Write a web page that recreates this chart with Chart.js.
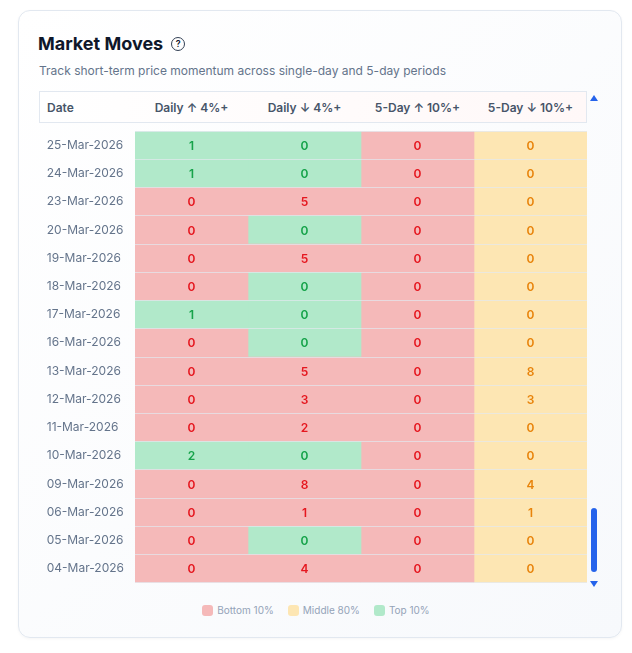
<!DOCTYPE html>
<html><head><meta charset="utf-8">
<script src="https://cdn.jsdelivr.net/npm/chart.js@4"></script>
<style>
body{margin:0;width:632px;height:653px;background:#fff;font-family:Inter,"Noto Sans",sans-serif;position:relative;overflow:hidden}
.card{position:absolute;left:18px;top:10px;width:602px;height:626px;border:1px solid #e2e8f0;border-radius:12px;background:linear-gradient(135deg,#fff,#f7f9fc);box-shadow:0 1px 3px rgba(0,0,0,.04)}
.title{position:absolute;left:38px;top:33px;font-size:18px;font-weight:700;color:#0f172a}
.q{display:inline-block;width:12px;height:12px;border:1.3px solid #334155;border-radius:50%;font-size:9px;line-height:12px;text-align:center;font-weight:600;margin-left:8px;vertical-align:3px}
.sub{position:absolute;left:39px;top:63px;font-size:12px;color:#64748b}
.head{position:absolute;left:39px;top:91px;width:548px;height:32px;border:1px solid #e2e8f0;background:linear-gradient(90deg,#fff,#fff8f8);box-sizing:border-box;font-size:12px;font-weight:600;color:#475569}
.head div{position:absolute;top:8px;text-align:center}
#wrap{position:absolute;left:40px;top:124px;width:547px;height:466px}
.legend{position:absolute;top:604px;left:0;width:632px;text-align:center;font-size:10px;color:#94a3b8}
.legend span{display:inline-block;margin:0 7px}
.legend i{display:inline-block;width:11px;height:11px;border-radius:3px;vertical-align:-2px;margin-right:4px}
.thumb{position:absolute;left:591px;top:508px;width:6px;height:64px;border-radius:3px;background:#2563eb}
.arr{position:absolute;left:590px;width:0;height:0;border-left:4px solid transparent;border-right:4px solid transparent}
</style></head><body>
<div class="card"></div>
<div class="title">Market Moves<span class="q">?</span></div>
<div class="sub">Track short-term price momentum across single-day and 5-day periods</div>
<div class="head" id="head"></div>
<div id="wrap"><canvas id="c"></canvas></div>
<div class="arr" style="top:95px;border-bottom:6px solid #2563eb"></div>
<div class="arr" style="top:581px;border-top:6px solid #2563eb"></div>
<div class="thumb"></div>
<div class="legend"><span><i style="background:#f5b9b9"></i>Bottom 10%</span><span><i style="background:#fde6b3"></i>Middle 80%</span><span><i style="background:#b1e9ca"></i>Top 10%</span></div>
<script>
const dates=["25-Mar-2026","24-Mar-2026","23-Mar-2026","20-Mar-2026","19-Mar-2026","18-Mar-2026","17-Mar-2026","16-Mar-2026","13-Mar-2026","12-Mar-2026","11-Mar-2026","10-Mar-2026","09-Mar-2026","06-Mar-2026","05-Mar-2026","04-Mar-2026"];
const columns=["Daily ↑ 4%+","Daily ↓ 4%+","5-Day ↑ 10%+","5-Day ↓ 10%+"];
const dailyUp=[1,1,0,0,0,0,1,0,0,0,0,2,0,0,0,0];
const dailyDown=[0,0,5,0,5,0,0,0,5,3,2,0,8,1,0,4];
const fiveUp=[0,0,0,0,0,0,0,0,0,0,0,0,0,0,0,0];
const fiveDown=[0,0,0,0,0,0,0,0,8,3,0,0,4,1,0,0];
const dailyUpBand=["t","t","b","b","b","b","t","b","b","b","b","t","b","b","b","b"];
const dailyDownBand=["t","t","b","t","b","t","t","t","b","b","b","t","b","b","t","b"];
const fiveUpBand=Array(16).fill("b");
const fiveDownBand=Array(16).fill("m");

const fill={b:"#f5b9b9",m:"#fde6b3",t:"#b1e9ca"};
const ink={b:"#e5171f",m:"#e8840c",t:"#16a34a"};
const values=[dailyUp,dailyDown,fiveUp,fiveDown];
const bands=[dailyUpBand,dailyDownBand,fiveUpBand,fiveDownBand];

const head=document.getElementById('head');
const hx=[[0,95,"Date"]];
const colW=547-95, cw=colW/4;
columns.forEach((c,i)=>hx.push([95+i*cw,cw,c]));
hx.forEach(([l,w,t],i)=>{const d=document.createElement('div');d.textContent=t;d.style.left=(i?l:7)+'px';d.style.width=(i?w:80)+'px';if(!i)d.style.textAlign='left';head.appendChild(d);});

const labelsPlugin={id:'cellText',afterDatasetsDraw(chart){const ctx=chart.ctx;ctx.save();ctx.font='600 12px Inter, sans-serif';ctx.textAlign='center';ctx.textBaseline='middle';
chart.data.datasets.forEach((ds,di)=>{chart.getDatasetMeta(di).data.forEach((bar,i)=>{const p=bar.getProps(['x','base','y']);ctx.fillStyle=ink[bands[di][i]];ctx.fillText(String(values[di][i]),(p.x+p.base)/2,p.y+1);});});ctx.restore();}};

new Chart(document.getElementById('c'),{type:'bar',
data:{labels:dates,datasets:columns.map((c,di)=>({label:c,data:dates.map(()=>1),backgroundColor:bands[di].map(b=>fill[b]),borderWidth:0,barPercentage:1,categoryPercentage:1}))},
options:{indexAxis:'y',responsive:true,maintainAspectRatio:false,animation:false,layout:{padding:0},
plugins:{legend:{display:false},tooltip:{enabled:false}},
scales:{x:{display:false,stacked:true,min:0,max:4},
y:{stacked:true,afterFit(s){s.width=95;},border:{display:false},grid:{offset:true,color:'rgba(226,232,240,0.7)',z:1,drawTicks:false},
ticks:{crossAlign:'far',padding:0,color:'#64748b',font:{size:12,family:'Inter, sans-serif'},callback(v){return '  '+this.getLabelForValue(v);}}}}},
plugins:[labelsPlugin]});
</script></body></html>
